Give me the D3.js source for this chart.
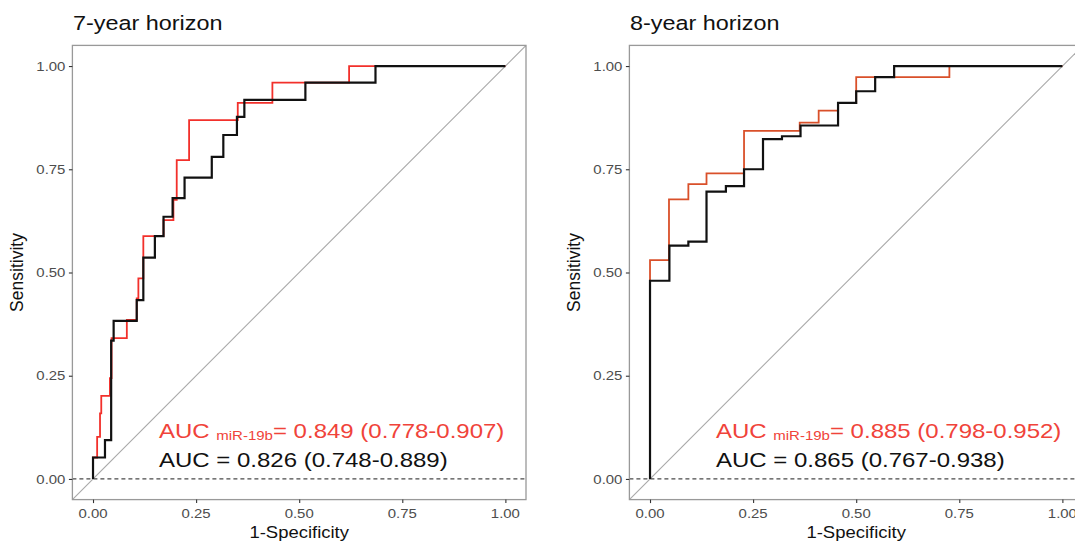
<!DOCTYPE html>
<html>
<head>
<meta charset="utf-8">
<script src="https://cdn.jsdelivr.net/npm/d3@7"></script>
<style>
  body { margin: 0; background: #fff; }
  svg { display: block; font-family: "Liberation Sans", Arial, sans-serif; }
</style>
</head>
<body>
<script>
var width = 1075;
var height = 544;

// ROC steps: [1-specificity where the curve rises, sensitivity after the rise]
var red7 = [[0,0],[0,0.052],[0.010,0.102],[0.017,0.159],[0.020,0.201],[0.041,0.244],
  [0.045,0.341],[0.082,0.385],[0.106,0.437],[0.110,0.486],[0.122,0.588],[0.171,0.627],
  [0.195,0.676],[0.203,0.772],[0.233,0.869],[0.351,0.911],[0.435,0.960],[0.621,1.0],[1.0,1.0]];
var black7 = [[0,0],[0,0.052],[0.029,0.094],[0.044,0.335],[0.050,0.383],[0.106,0.433],
  [0.122,0.536],[0.150,0.588],[0.171,0.635],[0.193,0.680],[0.222,0.730],[0.288,0.780],
  [0.316,0.833],[0.349,0.877],[0.367,0.918],[0.515,0.960],[0.685,1.0],[1.0,1.0]];
var red8 = [[0,0],[0,0.530],[0.046,0.677],[0.093,0.714],[0.137,0.740],[0.228,0.843],
  [0.363,0.863],[0.409,0.892],[0.456,0.910],[0.500,0.973],[0.726,1.0],[1.0,1.0]];
var black8 = [[0,0],[0,0.480],[0.047,0.565],[0.093,0.575],[0.137,0.696],[0.184,0.709],
  [0.228,0.750],[0.274,0.823],[0.320,0.830],[0.365,0.856],[0.456,0.911],[0.500,0.939],
  [0.546,0.973],[0.592,1.0],[1.0,1.0]];

var ticks = [0, 0.25, 0.5, 0.75, 1];
var titles = ['7-year horizon', '8-year horizon'];
var aucRed = ['= 0.849 (0.778-0.907)', '= 0.885 (0.798-0.952)'];
var aucBlack = ['AUC = 0.826 (0.748-0.889)', 'AUC = 0.865 (0.767-0.938)'];

var svg = d3.select('body').append('svg')
  .attr('width', width)
  .attr('height', height);

var panels = [
  {left: 72.4, red: red7, black: black7, redColor: '#f2302b'},
  {left: 629.4, red: red8, black: black8, redColor: '#d9502a'}
];

var plotTop = 45.4, plotBottom = 499.6, pw = 453.6;

// text stretched a bit wider, the original font runs wide
var label = function(g, x, y, sx, size) {
  return g.append('text')
    .attr('transform', 'translate(' + x + ',' + y + ') scale(' + sx + ',1)')
    .style('font-size', size + 'px');
};

panels.forEach(function(p, i) {
  var x = d3.scaleLinear().domain([-0.05, 1.05]).range([p.left, p.left + pw]);
  var y = d3.scaleLinear().domain([-0.05, 1.05]).range([plotBottom, plotTop]);

  var g = svg.append('g');
  var clipId = 'clip' + i;
  svg.append('clipPath').attr('id', clipId)
    .append('rect')
    .attr('x', p.left).attr('y', plotTop)
    .attr('width', pw).attr('height', plotBottom - plotTop);

  // diagonal reference
  g.append('line')
    .attr('clip-path', 'url(#' + clipId + ')')
    .attr('x1', x(-0.05)).attr('y1', y(-0.05))
    .attr('x2', x(1.05)).attr('y2', y(1.05))
    .attr('stroke', '#a8a8a8').attr('stroke-width', 1.1);

  // dashed line at zero
  g.append('line')
    .attr('x1', x(-0.05)).attr('x2', x(1.05))
    .attr('y1', y(0)).attr('y2', y(0))
    .attr('stroke', '#4a4a4a').attr('stroke-width', 1.2)
    .attr('stroke-dasharray', '4,3');

  var line = d3.line()
    .x(function(d) { return x(d[0]); })
    .y(function(d) { return y(d[1]); })
    .curve(d3.curveStepAfter);

  g.append('path').datum(p.red)
    .attr('d', line)
    .attr('fill', 'none')
    .attr('stroke', p.redColor)
    .attr('stroke-width', 1.8);

  g.append('path').datum(p.black)
    .attr('d', line)
    .attr('fill', 'none')
    .attr('stroke', '#111')
    .attr('stroke-width', 2.2);

  // panel border
  g.append('rect')
    .attr('x', p.left).attr('y', plotTop)
    .attr('width', pw).attr('height', plotBottom - plotTop)
    .attr('fill', 'none').attr('stroke', '#999').attr('stroke-width', 1.3);

  var fmt = d3.format('.2f');
  var xAxis = g.append('g')
    .attr('transform', 'translate(0,' + plotBottom + ')')
    .call(d3.axisBottom(x).tickValues(ticks).tickFormat('').tickSize(3.5));
  var yAxis = g.append('g')
    .attr('transform', 'translate(' + p.left + ',0)')
    .call(d3.axisLeft(y).tickValues(ticks).tickFormat('').tickSize(3.5));
  [xAxis, yAxis].forEach(function(a) {
    a.select('.domain').remove();
    a.selectAll('.tick line').attr('stroke', '#333').attr('stroke-width', 1.1);
  });

  ticks.forEach(function(t) {
    label(g, x(t), 518, 1.15, 13)
      .attr('text-anchor', 'middle').attr('fill', '#4d4d4d').text(fmt(t));
    label(g, p.left - 7, y(t) + 4.6, 1.15, 13)
      .attr('text-anchor', 'end').attr('fill', '#4d4d4d').text(fmt(t));
  });

  // titles
  label(g, p.left + 0.6, 30, 1.2, 19.5)
    .attr('fill', '#111')
    .text(titles[i]);

  label(g, x(0.5), 538, 1.12, 16.5)
    .attr('text-anchor', 'middle')
    .attr('fill', '#111')
    .text('1-Specificity');

  g.append('text')
    .attr('transform', 'translate(' + (p.left - 49) + ',' + y(0.5) + ') rotate(-90)')
    .attr('text-anchor', 'middle')
    .attr('fill', '#111')
    .style('font-size', '17.5px')
    .text('Sensitivity');

  // AUC annotations
  var tx = x(0.16);
  var t1 = label(g, tx, 437.5, 1.2, 20)
    .attr('fill', '#f0433a');
  t1.append('tspan').text('AUC ');
  t1.append('tspan').style('font-size', '12.5px').attr('dy', 2).text('miR-19b');
  t1.append('tspan').attr('dy', -2).text(aucRed[i]);

  label(g, tx, 467, 1.2, 20)
    .attr('fill', '#111')
    .text(aucBlack[i]);
});
</script>
</body>
</html>
